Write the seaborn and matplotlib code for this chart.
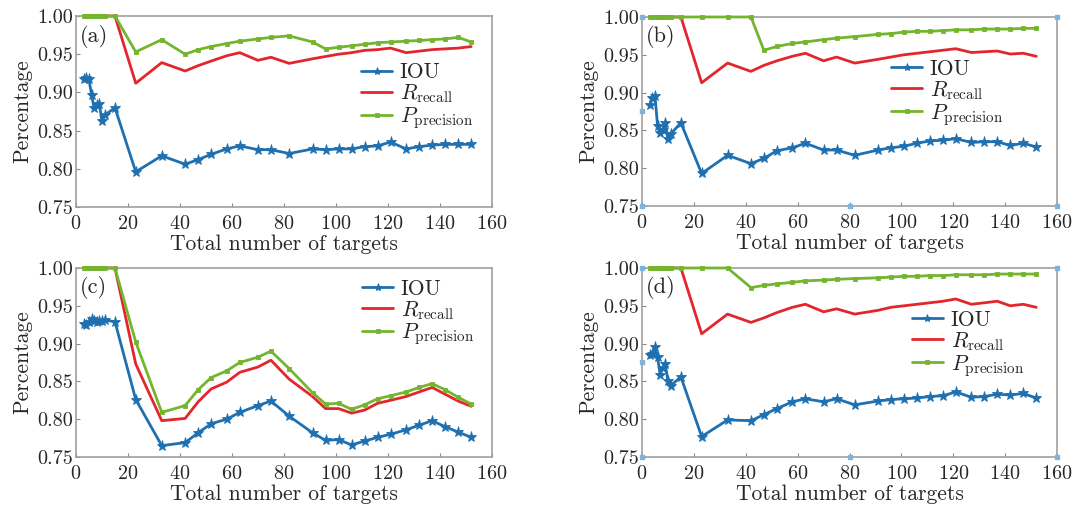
import numpy as np
import pandas as pd
import matplotlib
matplotlib.use("Agg")
import matplotlib.pyplot as plt
import seaborn as sns

# ---------------- data ----------------
targets = [3, 4, 5, 6, 7, 8, 9, 10, 11, 15, 23, 33, 42, 47, 52, 58, 63, 70, 75, 82,
           91, 96, 101, 106, 111, 116, 121, 127, 132, 137, 142, 147, 152]

iou_a = [0.918, 0.919, 0.917, 0.897, 0.879, 0.883, 0.885, 0.862, 0.870, 0.880,
         0.796, 0.817, 0.806, 0.812, 0.819, 0.826, 0.830, 0.825, 0.825, 0.820,
         0.826, 0.825, 0.826, 0.826, 0.829, 0.830, 0.835, 0.826, 0.829, 0.831,
         0.832, 0.832, 0.832]
rec_a = [1.0] * 10 + [0.912, 0.939, 0.928, 0.935, 0.941, 0.948, 0.952, 0.942, 0.946, 0.938,
                      0.944, 0.947, 0.950, 0.952, 0.955, 0.956, 0.958, 0.952, 0.954, 0.956,
                      0.957, 0.958, 0.960]
pre_a = [1.0] * 10 + [0.953, 0.969, 0.950, 0.956, 0.960, 0.964, 0.967, 0.970, 0.972, 0.974,
                      0.966, 0.957, 0.959, 0.961, 0.963, 0.965, 0.966, 0.967, 0.968, 0.969,
                      0.970, 0.972, 0.966]

iou_b = [0.883, 0.893, 0.896, 0.856, 0.846, 0.850, 0.860, 0.838, 0.845, 0.860,
         0.793, 0.817, 0.806, 0.813, 0.823, 0.827, 0.833, 0.824, 0.824, 0.817,
         0.824, 0.827, 0.829, 0.833, 0.836, 0.837, 0.839, 0.834, 0.835, 0.835,
         0.830, 0.833, 0.828]
rec_b = [1.0] * 10 + [0.913, 0.939, 0.928, 0.936, 0.942, 0.948, 0.952, 0.942, 0.947, 0.939,
                      0.944, 0.947, 0.950, 0.952, 0.954, 0.956, 0.958, 0.953, 0.954, 0.955,
                      0.951, 0.952, 0.948]
pre_b = [1.0] * 13 + [0.956, 0.961, 0.965, 0.967, 0.970, 0.972, 0.974,
                      0.977, 0.978, 0.980, 0.981, 0.981, 0.982, 0.983, 0.983, 0.984, 0.984,
                      0.984, 0.985, 0.985]

iou_c = [0.926, 0.925, 0.928, 0.932, 0.930, 0.929, 0.930, 0.930, 0.931, 0.929,
         0.826, 0.765, 0.769, 0.782, 0.794, 0.800, 0.809, 0.818, 0.824, 0.804,
         0.782, 0.772, 0.773, 0.766, 0.771, 0.776, 0.780, 0.786, 0.792, 0.798,
         0.790, 0.783, 0.776]
rec_c = [1.0] * 10 + [0.873, 0.798, 0.801, 0.823, 0.840, 0.849, 0.862, 0.869, 0.878, 0.853,
                      0.830, 0.814, 0.814, 0.808, 0.812, 0.821, 0.825, 0.830, 0.836, 0.842,
                      0.833, 0.824, 0.817]
pre_c = [1.0] * 10 + [0.902, 0.809, 0.818, 0.839, 0.855, 0.864, 0.875, 0.882, 0.890, 0.867,
                      0.835, 0.820, 0.821, 0.813, 0.819, 0.827, 0.831, 0.836, 0.842, 0.847,
                      0.839, 0.829, 0.820]

iou_d = [0.885, 0.886, 0.896, 0.882, 0.859, 0.868, 0.873, 0.850, 0.844, 0.856,
         0.777, 0.799, 0.798, 0.806, 0.814, 0.823, 0.827, 0.823, 0.827, 0.819,
         0.824, 0.826, 0.827, 0.828, 0.830, 0.831, 0.836, 0.829, 0.830, 0.833,
         0.832, 0.834, 0.828]
rec_d = [1.0] * 10 + [0.913, 0.939, 0.928, 0.934, 0.941, 0.948, 0.952, 0.942, 0.946, 0.939,
                      0.944, 0.948, 0.950, 0.952, 0.954, 0.956, 0.959, 0.952, 0.954, 0.956,
                      0.950, 0.952, 0.948]
pre_d = [1.0] * 12 + [0.974, 0.977, 0.979, 0.981, 0.983, 0.984, 0.985, 0.986,
                      0.987, 0.988, 0.989, 0.989, 0.990, 0.990, 0.991, 0.991, 0.991, 0.992,
                      0.992, 0.992, 0.992]

# small frame markers visible in panels (b) and (d)
frame_x = [0, 160, 0, 160, 0, 80]
frame_y = [1.0, 1.0, 0.75, 0.75, 0.875, 0.75]

panel_labels = ["(a)", "(b)", "(c)", "(d)"]
series_names = ["IOU", r"$R_{\mathrm{recall}}$", r"$P_{\mathrm{precision}}$"]
x_ticks = [0, 20, 40, 60, 80, 100, 120, 140, 160]
y_ticks = [0.75, 0.80, 0.85, 0.90, 0.95, 1.00]

# ---------------- style ----------------
sns.set_style("ticks")
plt.rcParams["font.family"] = ["cmr10", "DejaVu Serif"]
plt.rcParams["mathtext.fontset"] = "cm"
plt.rcParams["axes.formatter.use_mathtext"] = True

colors = {"IOU": "#1f70b0", series_names[1]: "#e3262c", series_names[2]: "#74b52f"}
markers = {"IOU": "*", series_names[1]: None, series_names[2]: "s"}
msizes = {"IOU": 8, series_names[1]: 0, series_names[2]: 3.5}

fig = plt.figure(figsize=(10.85, 5.13), dpi=100)
positions = [
    [0.070, 0.5965, 0.3834, 0.3723],
    [0.5917, 0.5985, 0.3825, 0.3684],
    [0.070, 0.1092, 0.3834, 0.3684],
    [0.5917, 0.1092, 0.3825, 0.3684],
]
legend_anchor = [(0.685, 0.755), (0.600, 0.775), (0.688, 0.94), (0.65, 0.775)]

panels = [(iou_a, rec_a, pre_a), (iou_b, rec_b, pre_b),
          (iou_c, rec_c, pre_c), (iou_d, rec_d, pre_d)]

for i, (iou, rec, pre) in enumerate(panels):
    ax = fig.add_axes(positions[i])
    df = pd.DataFrame({
        "x": targets * 3,
        "y": iou + rec + pre,
        "series": ["IOU"] * len(targets) + [series_names[1]] * len(targets)
                  + [series_names[2]] * len(targets),
    })
    for name in series_names:
        sub = df[df["series"] == name]
        sns.lineplot(data=sub, x="x", y="y", ax=ax, color=colors[name],
                     linewidth=2.0, marker=markers[name],
                     markersize=msizes[name], markeredgewidth=0.6,
                     markeredgecolor=colors[name], label=name, clip_on=False,
                     zorder=3)
    if i in (1, 3):
        ax.plot(frame_x, frame_y, linestyle="none", marker="s", markersize=2.5,
                color="#7fb3dc", clip_on=False, zorder=4)
    ax.set_xlim(0, 160)
    ax.set_ylim(0.75, 1.0)
    ax.set_xticks(x_ticks)
    ax.set_yticks(y_ticks)
    ax.set_yticklabels([f"{v:.2f}" for v in y_ticks])
    ax.tick_params(direction="in", length=3, width=0.8, color="#888888",
                   labelsize=14.5)
    ax.tick_params(axis="x", pad=6)
    ax.tick_params(axis="y", pad=2)
    for sp in ax.spines.values():
        sp.set_color("#a0a0a0")
        sp.set_linewidth(1.2)
    ax.set_xlabel("Total number of targets", fontsize=15.5, labelpad=1)
    ax.set_ylabel("Percentage", fontsize=15.5, labelpad=4)
    ax.text(0.01, 0.895, panel_labels[i], transform=ax.transAxes,
            fontsize=16, va="center", ha="left")
    leg = ax.legend(loc="upper left", bbox_to_anchor=legend_anchor[i],
                    frameon=False, fontsize=15.5, handlelength=1.45,
                    handletextpad=0.35, labelspacing=0.0, borderpad=0,
                    borderaxespad=0, markerscale=0.75)

fig.savefig("out.png", dpi=100)
